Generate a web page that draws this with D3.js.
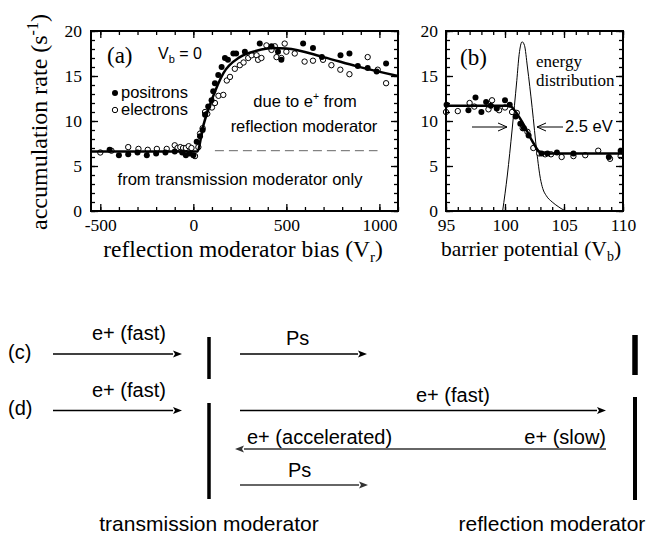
<!DOCTYPE html>
<html><head><meta charset="utf-8">
<script src="https://cdn.jsdelivr.net/npm/d3@7"></script>
<style>body{margin:0;background:#fff}svg{display:block}</style>
</head><body><svg id="c" width="650" height="535"></svg>
<script>
// ---------- DATA ----------
const positronsA = [[-450,6.8],[-400,6.2],[-350,6.3],[-300,6.5],[-250,6.2],[-200,6.4],[-150,6.5],[-100,6.6],[-60,6.5],[-40,6.2],[-20,6.4],[0,6.2],[18,7.7],[36,8.3],[50,9.0],[63,10.7],[80,11.6],[98,12.3],[107,13.3],[116,14.2],[134,15.1],[152,16.0],[170,17.0],[186,16.8],[215,17.5],[230,17.5],[277,17.7],[357,18.6],[420,18.3],[455,17.7],[473,16.8],[590,18.6],[643,18.1],[691,17.1],[791,17.3],[839,17.5],[884,16.1],[937,15.9],[985,15.5],[1036,16.4]];
const electronsA = [[-500,6.5],[-440,6.7],[-350,7.1],[-295,6.9],[-245,6.8],[-196,6.9],[-143,6.9],[-100,7.3],[-85,7.0],[-70,7.1],[-55,7.0],[-40,7.0],[-25,7.2],[-10,7.0],[9,6.1],[27,7.1],[36,8.6],[50,9.2],[63,11.0],[75,10.8],[100,11.5],[116,12.0],[135,12.8],[161,12.9],[180,14.5],[197,14.9],[223,15.8],[250,16.2],[270,16.5],[295,17.0],[313,17.3],[340,17.3],[348,16.8],[366,17.0],[393,18.4],[420,17.9],[438,18.3],[447,17.1],[473,17.0],[491,18.6],[500,17.7],[545,17.5],[598,16.6],[643,16.7],[697,16.8],[742,16.2],[790,15.7],[839,15.2],[937,17.1],[991,15.7],[1036,14.2]];
const fitA = [[-550,6.6],[20,6.6],[55,9.6],[100,12.4],[161,15.3],[250,17.1],[340,17.8],[430,18.1],[500,18.05],[700,17.1],[875,16.1],[1100,15.0]];
const baselineA = [[116,6.7],[990,6.7]];

const positronsB = [[95.05,11.8],[96.9,11.2],[97.5,12.6],[98.0,11.0],[98.4,12.1],[98.8,11.7],[99.3,11.4],[100.0,12.3],[100.4,11.8],[100.9,10.5],[101.3,9.7],[101.6,9.2],[102.0,8.4],[103.1,6.4],[103.6,6.4],[104.4,6.5],[105.8,6.4],[108.8,6.0],[109.8,6.7]];
const electronsB = [[95.0,11.0],[96.0,11.1],[97.0,12.0],[97.4,11.6],[98.6,11.3],[98.9,12.3],[99.5,11.2],[100.0,11.5],[100.6,11.0],[101.0,10.9],[101.5,9.2],[101.9,8.8],[102.4,7.0],[102.9,6.4],[103.4,6.3],[103.9,6.3],[104.8,6.0],[105.8,6.1],[106.8,6.2],[107.9,6.7],[108.9,5.8],[109.8,6.1]];
const fitB = [[95,11.7],[100.4,11.7],[100.8,11.2],[101.5,9.8],[102.3,7.8],[103.0,6.5],[103.5,6.4],[110,6.4]];
const energyB = [[99.8,0],[100.2,4],[100.6,9],[101.0,14.5],[101.2,17.4],[101.45,18.8],[101.65,18.4],[101.9,16],[102.3,11.5],[102.7,6.5],[103.0,3.6],[103.2,2.5],[103.5,1.7],[104.0,1.0],[104.5,0.5],[105.0,0.1],[105.3,0]];

const yTicks = [0,5,10,15,20];
const yMinor = d3.range(0,21,1);
const xTicksA = [-500,0,500,1000];
const xMinorA = d3.range(-500,1101,100);
const xTicksB = [95,100,105,110];
const xMinorB = d3.range(95,111,1);

// ---------- DRAW ----------
const svg = d3.select("#c");
const SERIF = "Liberation Serif, Times New Roman, serif";
const SANS = "Liberation Sans, Arial, sans-serif";

const y = d3.scaleLinear().domain([0,20]).range([211,31]);
const xA = d3.scaleLinear().domain([-550,1100]).range([91,398]);
const xB = d3.scaleLinear().domain([95,110]).range([446,623]);

function frame(x, xMaj, xMin, yPad){
  const [x0,x1] = x.range();
  const g = svg.append("g");
  const style = sel => {
    sel.attr("font-family", SERIF).attr("font-size", 17.5);
    sel.select(".domain").remove();
    sel.selectAll("line").attr("stroke","#000").attr("stroke-width",1.3);
    sel.selectAll("text").attr("fill","#000");
  };
  g.append("g").attr("transform",`translate(0,${y(0)})`)
    .call(d3.axisBottom(x).tickValues(xMaj).tickSize(-7).tickPadding(8).tickFormat(d=>String(d))).call(style);
  g.append("g").attr("transform",`translate(0,${y(0)})`)
    .call(d3.axisBottom(x).tickValues(xMin).tickSize(-4).tickFormat("")).call(style);
  g.append("g").attr("transform",`translate(0,${y(20)})`)
    .call(d3.axisTop(x).tickValues(xMaj).tickSize(-7).tickFormat("")).call(style);
  g.append("g").attr("transform",`translate(0,${y(20)})`)
    .call(d3.axisTop(x).tickValues(xMin).tickSize(-4).tickFormat("")).call(style);
  g.append("g").attr("transform",`translate(${x0},0)`)
    .call(d3.axisLeft(y).tickValues(yTicks).tickSize(-7).tickPadding(yPad)).call(style);
  g.append("g").attr("transform",`translate(${x0},0)`)
    .call(d3.axisLeft(y).tickValues(yMinor).tickSize(-4).tickFormat("")).call(style);
  g.append("g").attr("transform",`translate(${x1},0)`)
    .call(d3.axisRight(y).tickValues(yTicks).tickSize(-7).tickFormat("")).call(style);
  g.append("g").attr("transform",`translate(${x1},0)`)
    .call(d3.axisRight(y).tickValues(yMinor).tickSize(-4).tickFormat("")).call(style);
  g.append("rect").attr("x",x0).attr("y",y(20)).attr("width",x1-x0).attr("height",y(0)-y(20))
    .attr("fill","none").attr("stroke","#000").attr("stroke-width",2);
}

function points(x, open, filled, fit){
  const g = svg.append("g");
  g.selectAll("circle.o").data(open).join("circle").attr("class","o")
    .attr("cx",d=>x(d[0])).attr("cy",d=>y(d[1])).attr("r",2.7)
    .attr("fill","#fff").attr("stroke","#000").attr("stroke-width",1);
  g.selectAll("circle.f").data(filled).join("circle").attr("class","f")
    .attr("cx",d=>x(d[0])).attr("cy",d=>y(d[1])).attr("r",3).attr("fill","#000");
  g.append("path").datum(fit)
    .attr("d", d3.line().x(d=>x(d[0])).y(d=>y(d[1])).curve(d3.curveMonotoneX))
    .attr("fill","none").attr("stroke","#000").attr("stroke-width",2.5);
}

// Panel (a)
svg.append("path").datum(baselineA)
  .attr("d", d3.line().x(d=>xA(d[0])).y(d=>y(d[1])))
  .attr("stroke","#666").attr("stroke-width",1).attr("stroke-dasharray","9,5").attr("fill","none");
points(xA, electronsA, positronsA, fitA);
frame(xA, xTicksA, xMinorA, 9);

// Panel (b)
svg.append("clipPath").attr("id","clipB").append("rect")
  .attr("x",446).attr("y",31).attr("width",177).attr("height",180);
svg.append("path").datum(energyB).attr("clip-path","url(#clipB)")
  .attr("d", d3.line().x(d=>xB(d[0])).y(d=>y(d[1])).curve(d3.curveMonotoneX))
  .attr("fill","none").attr("stroke","#000").attr("stroke-width",1);
points(xB, electronsB, positronsB, fitB);
frame(xB, xTicksB, xMinorB, 8);

// Texts panel (a)
function txt(x,yy,s,font,size,anchor){
  return svg.append("text").attr("x",x).attr("y",yy).attr("font-family",font)
    .attr("font-size",size).attr("text-anchor",anchor||"start").attr("fill","#000").text(s);
}
txt(107,63,"(a)",SERIF,23);
const vb = txt(158,59,"V",SANS,16);
vb.append("tspan").attr("dy",4).attr("font-size",11).text("b");
vb.append("tspan").attr("dy",-4).text(" = 0");
svg.append("circle").attr("cx",115).attr("cy",93).attr("r",3).attr("fill","#000");
txt(121,98,"positrons",SANS,16.5);
svg.append("circle").attr("cx",115).attr("cy",110).attr("r",2.7).attr("fill","#fff").attr("stroke","#000");
txt(121,115,"electrons",SANS,16.5);
const due = txt(305,107,"due to e",SANS,16.5,"middle");
due.append("tspan").attr("dy",-7).attr("font-size",10.5).text("+");
due.append("tspan").attr("dy",7).text(" from");
txt(304,132,"reflection moderator",SANS,16.5,"middle");
txt(240,185,"from transmission moderator only",SANS,16.5,"middle");

// axis labels
const yl = svg.append("text").attr("transform","translate(47,122) rotate(-90)")
  .attr("text-anchor","middle").attr("font-family",SERIF).attr("font-size",24).attr("fill","#000")
  .text("accumulation rate (s");
yl.append("tspan").attr("dy",-9).attr("font-size",16).text("-1");
yl.append("tspan").attr("dy",9).text(")");
const xl = txt(243,257,"reflection moderator bias (V",SERIF,23.5,"middle");
xl.append("tspan").attr("dy",5).attr("font-size",15).text("r");
xl.append("tspan").attr("dy",-5).text(")");
const xl2 = txt(531,256,"barrier potential (V",SERIF,21.5,"middle");
xl2.append("tspan").attr("dy",5).attr("font-size",14).text("b");
xl2.append("tspan").attr("dy",-5).text(")");

// panel (b) texts
txt(460,65,"(b)",SERIF,23);
txt(536,67,"energy",SERIF,17);
txt(536,86,"distribution",SERIF,17);
txt(565,132,"2.5 eV",SANS,16.5);

function openArrow(x1,x2,yy){
  svg.append("line").attr("x1",x1).attr("x2",x2).attr("y1",yy).attr("y2",yy)
    .attr("stroke","#000").attr("stroke-width",1);
  const dir = x2>x1?1:-1;
  svg.append("path").attr("d",`M${x2-dir*9},${yy-4}L${x2},${yy}L${x2-dir*9},${yy+4}`)
    .attr("fill","none").attr("stroke","#000").attr("stroke-width",1);
}
openArrow(472,507,127);
openArrow(563,537,127);

// ---------- diagram (c), (d) ----------
function arrow(x1,x2,yy,col){
  const dir = x2>x1?1:-1, L=9, W=3.5;
  svg.append("line").attr("x1",x1).attr("x2",x2-dir*L).attr("y1",yy).attr("y2",yy)
    .attr("stroke",col).attr("stroke-width",1.3);
  svg.append("path").attr("d",`M${x2},${yy}L${x2-dir*L},${yy-W}L${x2-dir*(L-2)},${yy}L${x2-dir*L},${yy+W}Z`)
    .attr("fill",col);
}
function bar(x,y1,y2,w){
  svg.append("rect").attr("x",x-w/2).attr("y",y1).attr("width",w).attr("height",y2-y1).attr("fill","#000");
}
const DS = 20;
txt(8,359,"(c)",SANS,DS);
txt(8,415,"(d)",SANS,DS);
arrow(53,182,354,"#000");
txt(92,340,"e+ (fast)",SANS,DS);
bar(209,337,379,3.5);
arrow(240,367,354,"#000");
txt(286,345,"Ps",SANS,DS);
bar(635,335,375,5.5);

arrow(53,182,410.5,"#000");
txt(92,397,"e+ (fast)",SANS,DS);
bar(209,403,499,3.5);
arrow(240,606,410.5,"#000");
txt(416,402,"e+ (fast)",SANS,DS);
bar(635,397,500,4);
arrow(606,235,449,"#333");
txt(247,444,"e+ (accelerated)",SANS,DS);
txt(606,444,"e+ (slow)",SANS,DS,"end");
arrow(240,368,485,"#333");
txt(288,477,"Ps",SANS,DS);
txt(209,531,"transmission moderator",SANS,21,"middle");
txt(552,531,"reflection moderator",SANS,21,"middle");
</script></body></html>
